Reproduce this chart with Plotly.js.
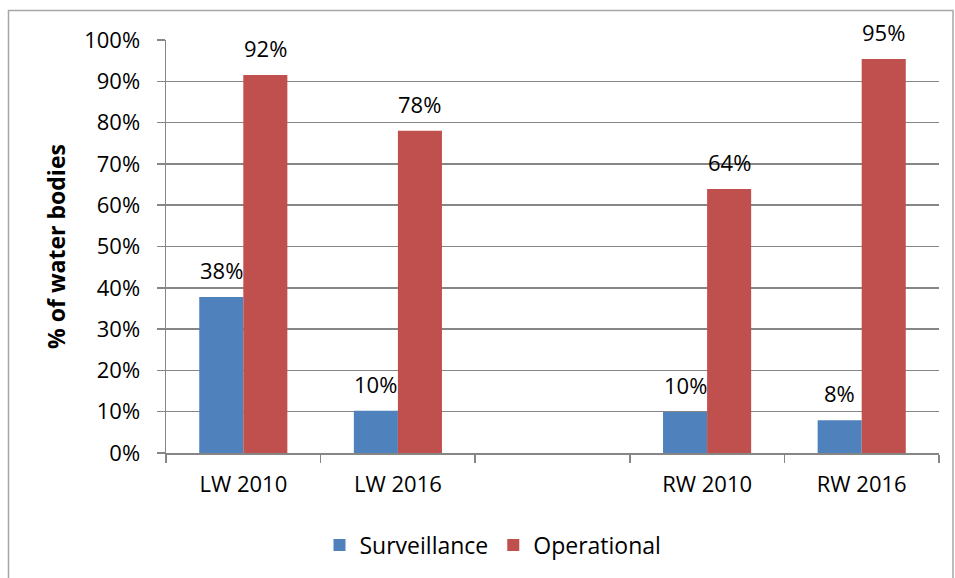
<!DOCTYPE html>
<html>
<head>
<meta charset="utf-8">
<script src="https://cdn.plot.ly/plotly-3.0.1.min.js"></script>
<style>html,body{margin:0;padding:0;background:#fff;} #chart{width:955px;height:578px;}</style>
</head>
<body>
<div id="chart"></div>
<script>
const categories = ["LW 2010", "LW 2016", " ", "RW 2010", "RW 2016"];
const surveillance = [37.8, 10.2, null, 9.9, 7.9];
const operational = [91.5, 78, null, 63.9, 95.4];
const survLabels = ["38%", "10%", "", "10%", "8%"];
const opLabels = ["92%", "78%", "", "64%", "95%"];
const yTickVals = [0, 10, 20, 30, 40, 50, 60, 70, 80, 90, 100];
const yTickText = ["0%", "10%", "20%", "30%", "40%", "50%", "60%", "70%", "80%", "90%", "100%"];

const FONT = "Open Sans, Noto Sans, sans-serif";
const W = 955, H = 578;
const L = 166, R = 16, T = 40, B = 125;
const pw = W - L - R, ph = H - T - B;
const px = x => (x - L) / pw;
const py = y => (H - B - y) / ph;

const annotations = [];
function addLabels(vals, labels, shift) {
  vals.forEach((v, i) => {
    if (v === null || !labels[i]) return;
    annotations.push({
      x: categories[i], y: v, xref: 'x', yref: 'y',
      text: labels[i], showarrow: false,
      xanchor: 'center', yanchor: 'bottom',
      xshift: shift, yshift: 10,
      font: {family: FONT, size: 22, color: '#000'}
    });
  });
}
addLabels(surveillance, survLabels, -22);
addLabels(operational, opLabels, 22);

const traces = [
  {type: 'bar', name: 'Surveillance', x: categories, y: surveillance,
   marker: {color: '#4F81BD'}, hoverinfo: 'none'},
  {type: 'bar', name: 'Operational', x: categories, y: operational,
   marker: {color: '#C0504D'}, hoverinfo: 'none'}
];

const layout = {
  width: W, height: H,
  margin: {l: L, r: R, t: T, b: B, pad: 0},
  paper_bgcolor: '#fff', plot_bgcolor: '#fff',
  barmode: 'group', bargap: 0.43, bargroupgap: 0,
  font: {family: FONT, size: 22, color: '#000'},
  showlegend: true,
  legend: {orientation: 'h', x: px(493), y: py(545), xanchor: 'center', yanchor: 'middle',
           font: {family: FONT, size: 23, color: '#000'}, itemwidth: 30, tracegroupgap: 0,
           bgcolor: 'rgba(0,0,0,0)'},
  xaxis: {
    type: 'category', categoryorder: 'array', categoryarray: categories,
    showline: true, linecolor: '#868686', linewidth: 1.5,
    ticks: 'outside', tickson: 'boundaries', ticklen: 8, tickcolor: '#868686', tickwidth: 1.5,
    showgrid: false, ticklabelstandoff: 11,
    tickfont: {family: FONT, size: 22, color: '#000'}
  },
  yaxis: {
    range: [0, 100], tickvals: yTickVals, ticktext: yTickText,
    showline: true, linecolor: '#868686', linewidth: 1.5,
    ticks: 'outside', ticklen: 8, tickcolor: '#868686', tickwidth: 1.5,
    showgrid: true, gridcolor: '#868686', gridwidth: 1.5, zeroline: false,
    ticklabelstandoff: 12,
    tickfont: {family: FONT, size: 22, color: '#000'},
    title: {text: '% of water bodies', standoff: 12,
            font: {family: FONT, size: 23, color: '#000', weight: 'bold'}}
  },
  annotations: annotations,
  shapes: [{type: 'rect', xref: 'paper', yref: 'paper',
            x0: px(8.5), x1: px(953), y0: py(600), y1: py(10.5),
            line: {color: '#A6A6A6', width: 1.5}, fillcolor: 'rgba(0,0,0,0)', layer: 'below'}]
};

Plotly.newPlot('chart', traces, layout, {staticPlot: true, displayModeBar: false});
</script>
</body>
</html>
